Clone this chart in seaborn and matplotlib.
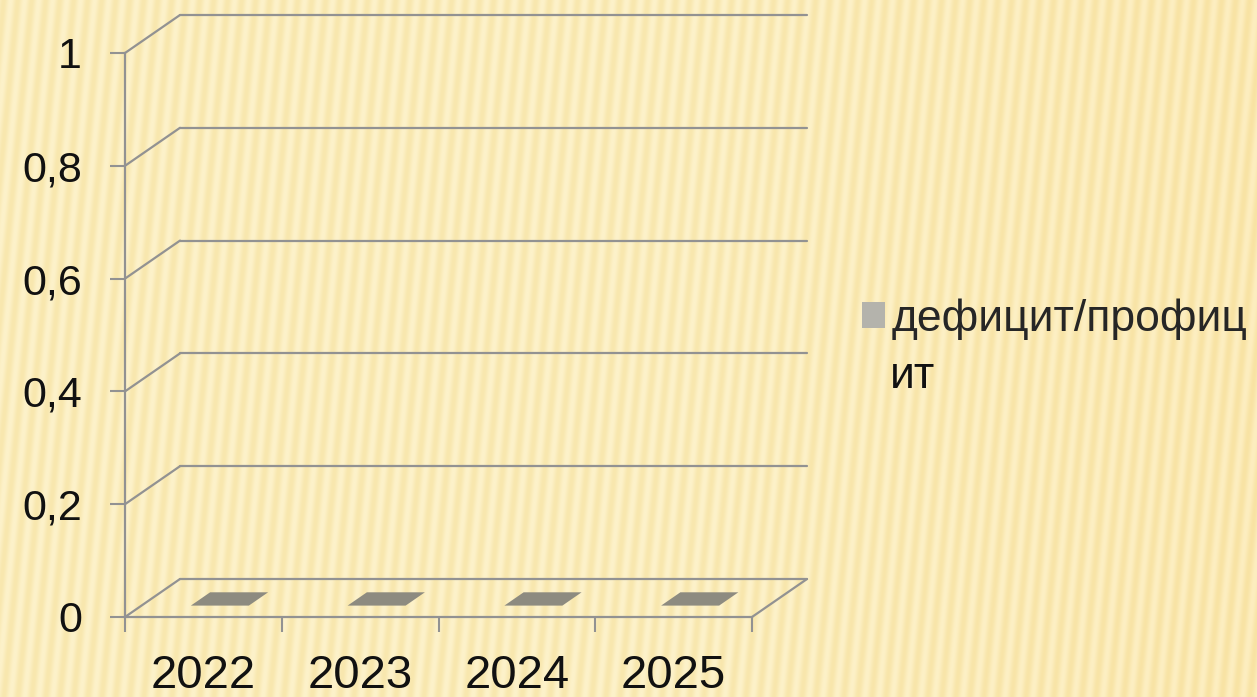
import numpy as np
import pandas as pd
import matplotlib.pyplot as plt
import seaborn as sns
from matplotlib.patches import Polygon

# --- donnees du graphique ---
years = ["2022", "2023", "2024", "2025"]
values = [0, 0, 0, 0]
series_name = "дефицит/профицит"
legend_lines = ["дефицит/профиц", "ит"]   # libelle coupe sur deux lignes
yticks = [0, 0.2, 0.4, 0.6, 0.8, 1]
ytick_labels = ["0", "0,2", "0,4", "0,6", "0,8", "1"]

df = pd.DataFrame({"год": years, "значение": values, "ряд": series_name})

sns.set_theme(style="white")
plt.rcParams["font.family"] = ["Liberation Sans", "DejaVu Sans"]

W, H = 1257, 697
fig = plt.figure(figsize=(W / 100, H / 100), dpi=100)

# fond jaune raye (texture decorative)
bg = fig.add_axes([0, 0, 1, 1], zorder=-10)
xx, yy = np.meshgrid(np.arange(W), np.arange(H))
s = 0.5 + 0.5 * np.sin(2 * np.pi * (xx - 0.10 * (H - yy)) / 14.0)
light = np.array([253, 242, 202]) / 255
dark = np.array([248, 231, 174]) / 255
img = light * (1 - s[..., None]) + dark * s[..., None]
warm = np.clip((xx - 700) / 557, 0, 1)[..., None] * 0.04
img = np.clip(img - warm * np.array([0.0, 0.4, 1.0]), 0, 1)
bg.imshow(img, aspect="auto", extent=[0, 1, 0, 1])
bg.axis("off")

grey = "#929292"
ax = fig.add_axes([125 / W, (H - 617) / H, 627 / W, 564 / H])
ax.patch.set_alpha(0)

sns.barplot(data=df, x="год", y="значение", hue="ряд", palette=["#b5b4ab"],
            width=0.37, ax=ax, legend=True)
ax.set_xlim(-0.5, 3.5)
ax.set_ylim(0, 1)

# decalage de profondeur (effet 3D) en unites de donnees
DX = 55 / 627 * 4
DY = 38 / 564

# mur du fond : grille + diagonales
for y in yticks:
    ax.plot([-0.5 + DX, 3.5 + DX], [y + DY, y + DY], color=grey, lw=1.6, clip_on=False)
    ax.plot([-0.5, -0.5 + DX], [y, y + DY], color=grey, lw=1.6, clip_on=False)
ax.plot([3.5, 3.5 + DX], [0, DY], color=grey, lw=1.6, clip_on=False)

# faces superieures des barres (hauteur nulle)
f1, f2 = 0.3, 0.65
for bar in ax.containers[0]:
    x0, w, h = bar.get_x(), bar.get_width(), bar.get_height()
    pts = [(x0 + f1 * DX, h + f1 * DY), (x0 + w + f1 * DX, h + f1 * DY),
           (x0 + w + f2 * DX, h + f2 * DY), (x0 + f2 * DX, h + f2 * DY)]
    ax.add_patch(Polygon(pts, closed=True, facecolor="#8d8b80", edgecolor="none",
                         clip_on=False, zorder=3))

# axes
for side in ["top", "right"]:
    ax.spines[side].set_visible(False)
for side in ["left", "bottom"]:
    ax.spines[side].set_color(grey)
    ax.spines[side].set_linewidth(1.6)

ax.set_yticks(yticks, ytick_labels)
ax.tick_params(axis="y", direction="out", length=11, width=1.5, color=grey,
               pad=20, labelsize=31, labelcolor="#111111", left=True)
ax.set_xticks(range(len(years)), years)
ax.set_xticks([i - 0.5 for i in range(len(years) + 1)], minor=True)
ax.tick_params(axis="x", which="major", length=0, pad=27, labelsize=34,
               labelcolor="#111111")
ax.tick_params(axis="x", which="minor", direction="out", length=11, width=1.5,
               color=grey, bottom=True)
ax.set_xlabel("")
ax.set_ylabel("")
ax.grid(False)

# legende : carre + premiere ligne, puis suite du libelle en dessous
handles, _ = ax.get_legend_handles_labels()
leg = ax.legend(handles=handles, labels=[legend_lines[0]], loc="center left",
                bbox_to_anchor=(862 / W, (H - 319) / H), bbox_transform=fig.transFigure,
                frameon=False, fontsize=32, handlelength=0.52, handleheight=0.52,
                handletextpad=0.15, borderpad=0, borderaxespad=0)
for hnd in leg.legend_handles:
    hnd.set_edgecolor("none")
fig.text(890 / W, (H - 388) / H, legend_lines[1], fontsize=32, va="baseline",
         ha="left", color="#111111")

fig.savefig("out.png", dpi=100)
